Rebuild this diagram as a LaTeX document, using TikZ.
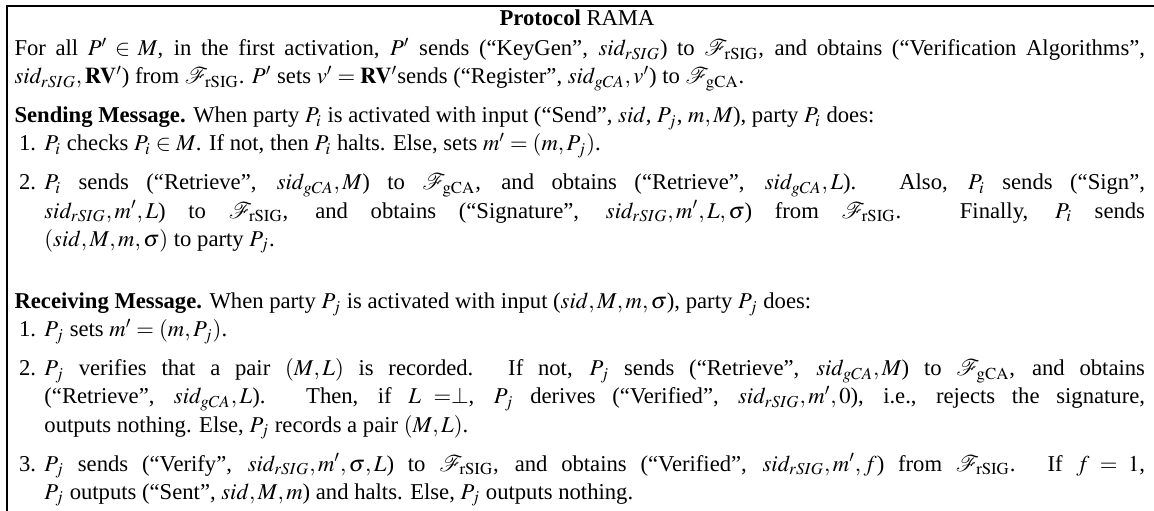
\documentclass[tikz,border=0pt]{standalone}
\usepackage{mathptmx}
\usepackage{fontspec}
\setmainfont{Liberation Serif}
\newlength{\itmind}
\newcommand{\itm}[1]{\par\noindent\hangindent=\itmind\hangafter=1\hbox to \itmind{\hspace{0.2em}#1\hss}\ignorespaces}
\newcommand{\Fr}{\mathcal{F}_{\mathrm{rSIG}}}
\newcommand{\Fg}{\mathcal{F}_{\mathrm{gCA}}}
\newcommand{\sr}{sid_{rSIG}}
\newcommand{\sg}{sid_{gCA}}
\tikzset{frame/.style={line width=1.1pt}}
\begin{document}
\begin{tikzpicture}[x=1pt,y=1pt]
\useasboundingbox (0,0) rectangle (540,239.1);
\coordinate (tl) at (3.2,236.3);
\coordinate (tr) at (540,236.3);
\coordinate (bl) at (3.2,0);
\draw[frame] (tr) -- (tl) -- (bl);
\node[anchor=base, inner sep=0] (title) at (270,227.0) {\fontsize{10.6}{13}\selectfont\textbf{Protocol} RAMA};
\node[anchor=north west, inner sep=0] (body) at (6.6,221.4) {\parbox[t]{529pt}{\fontsize{10.6}{13.2}\selectfont
\setlength{\itmind}{1.32em}%
\setlength{\parindent}{0pt}\setlength{\parskip}{0pt}%
For all $P'\in M$, in the first activation, $P'$ sends (“KeyGen”, $\sr$) to $\Fr$, and obtains (“Verification Algorithms”,\linebreak $\sr,\mathbf{RV}'$) from $\Fr$. $P'$ sets $v'=\mathbf{RV}'$sends (“Register”, $\sg,v'$) to $\Fg$.\par
\vspace{5pt}
\textbf{Sending Message.} When party $P_i$ is activated with input (“Send”, $sid$, $P_j$, $m,M$), party $P_i$ does:
\itm{1.}$P_i$ checks $P_i\in M$. If not, then $P_i$ halts. Else, sets $m'=(m,P_j)$.\par
\vspace{5pt}
\itm{2.}$P_i$ sends (“Retrieve”, $\sg,M$) to $\Fg$, and obtains (“Retrieve”, $\sg,L$). Also, $P_i$ sends (“Sign”,\linebreak $\sr,m',L$) to $\Fr$, and obtains (“Signature”, $\sr,m',L,\sigma$) from $\Fr$. Finally, $P_i$ sends\linebreak $(sid,M,m,\sigma)$ to party $P_j$.\par
\vspace{16pt}
\textbf{Receiving Message.} When party $P_j$ is activated with input ($sid,M,m,\sigma$), party $P_j$ does:
\itm{1.}$P_j$ sets $m'=(m,P_j)$.\par
\vspace{5pt}
\itm{2.}$P_j$ verifies that a pair $(M,L)$ is recorded. If not, $P_j$ sends (“Retrieve”, $\sg,M$) to $\Fg$, and obtains\linebreak (“Retrieve”, $\sg,L$). Then, if $L=\perp$, $P_j$ derives (“Verified”, $\sr,m',0$), i.e., rejects the signature,\linebreak outputs nothing. Else, $P_j$ records a pair $(M,L)$.\par
\vspace{5pt}
\itm{3.}$P_j$ sends (“Verify”, $\sr,m',\sigma,L$) to $\Fr$, and obtains (“Verified”, $\sr,m',f$) from $\Fr$. If $f=1$,\linebreak $P_j$ outputs (“Sent”, $sid,M,m$) and halts. Else, $P_j$ outputs nothing.\par
}};
\end{tikzpicture}
\end{document}
